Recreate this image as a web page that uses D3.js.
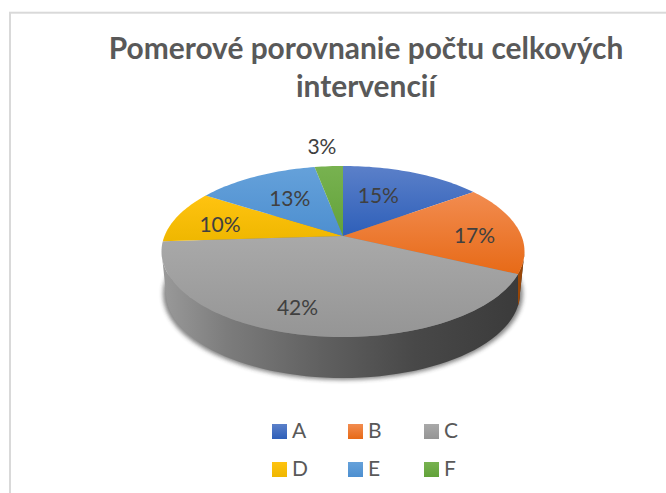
<!DOCTYPE html>
<html>
<head>
<meta charset="utf-8" />
<title>Pomerové porovnanie</title>
<style>
  html, body { margin: 0; padding: 0; background: #fff; }
  svg { display: block; }
  text { font-family: Lato, "Open Sans", sans-serif; }
</style>
</head>
<body>
<script src="https://cdnjs.cloudflare.com/ajax/libs/d3/7.8.5/d3.min.js"></script>
<script>
var categories = ['A', 'B', 'C', 'D', 'E', 'F'];
var values = [15, 17, 42, 10, 13, 3];
var titleLines = ['Pomerové porovnanie počtu celkových', 'intervencií'];

var topColors = ['#5b80c9', '#f28c50', '#a9a9a9', '#ffc310', '#65a1da', '#78b250'];
var bottomColors = ['#2e5fb9', '#e76a17', '#959595', '#efb700', '#4d8fd0', '#62a23a'];
// wall colour of the orange sliver on the right
var orangeWall = '#9a4606';

var width = 666, height = 493;
var svg = d3.select('body').append('svg').attr('width', width).attr('height', height);
var defs = svg.append('defs');

svg.append('rect')
    .attr('x', 10).attr('y', 12.7)
    .attr('width', 700).attr('height', 520)
    .attr('fill', '#fff').attr('stroke', '#d9d9d9').attr('stroke-width', 2);

svg.selectAll('.title')
    .data(titleLines)
  .enter().append('text')
    .attr('class', 'title')
    .attr('x', 366)
    .attr('y', function(d, i) { return 59 + i * 38; })
    .attr('text-anchor', 'middle')
    .attr('font-size', 29.9)
    .attr('font-weight', 700)
    .attr('fill', '#595959')
    .text(function(d) { return d; });

// pie in perspective: unit disc -> picture, apex stays at the projected centre
var cx = 343, cy = 236, b = 178.5, a = 82.7, k = -0.181;
function project(angle, r) {
    var x = r * Math.sin(angle), y = -r * Math.cos(angle);
    var w = 1 + k * y;
    return [cx + b * x / w, cy + a * y / w];
}

var pie = d3.pie().sort(null).value(function(d) { return d; })(values);
var line = d3.line();

function slicePoints(d) {
    var pts = [[cx, cy]];
    var n = Math.ceil((d.endAngle - d.startAngle) * 40);
    d3.range(n + 1).forEach(function(i) {
        pts.push(project(d.startAngle + (d.endAngle - d.startAngle) * i / n, 1));
    });
    return pts;
}

// gradients
pie.forEach(function(d, i) {
    var g = defs.append('linearGradient').attr('id', 'top' + i)
        .attr('x1', 0).attr('y1', 0).attr('x2', 0).attr('y2', 1);
    g.append('stop').attr('offset', '0%').attr('stop-color', topColors[i]);
    g.append('stop').attr('offset', '100%').attr('stop-color', bottomColors[i]);
});
var wall = defs.append('linearGradient').attr('id', 'wall');
[['0%', '#9a9a9a'], ['18%', '#7c7c7c'], ['45%', '#5f5f5f'], ['70%', '#484848'], ['100%', '#3a3a3a']]
    .forEach(function(s) { wall.append('stop').attr('offset', s[0]).attr('stop-color', s[1]); });
defs.append('filter').attr('id', 'soft').attr('x', '-10%').attr('y', '-10%').attr('width', '120%').attr('height', '130%')
    .append('feGaussianBlur').attr('stdDeviation', 2);

// wall: bottom outline is a slightly smaller ellipse
var lowX = 343, lowY = 293, lowRx = 177, lowRy = 85;
function lowPoint(t) { return [lowX + lowRx * Math.cos(t), lowY + lowRy * Math.sin(t)]; }

var lowerArc = d3.range(0, 61).map(function(i) { return lowPoint(Math.PI * i / 60); });

svg.append('ellipse')
    .attr('cx', lowX).attr('cy', lowY + 1)
    .attr('rx', lowRx + 3).attr('ry', lowRy + 1)
    .attr('fill', '#333').attr('opacity', 0.6)
    .attr('filter', 'url(#soft)');

var rimRight = d3.range(0, 41).map(function(i) { return [343 + 181.5 * Math.cos(Math.PI * i / 40), 251.5 + 85.5 * Math.sin(Math.PI * i / 40)]; });

svg.append('path')
    .attr('d', line(lowerArc.concat(rimRight.slice().reverse())) + 'Z')
    .attr('fill', 'url(#wall)');

// orange piece of the wall at the far right
var bcEnd = project(pie[1].endAngle, 1);
var rimOrange = d3.range(0, 31).map(function(i) {
    var s = pie[1].startAngle + (pie[1].endAngle - pie[1].startAngle) * i / 30;
    return project(s, 1);
}).filter(function(p) { return p[1] >= 251.5; });
var lowEndT = Math.acos((bcEnd[0] - lowX) / lowRx);
var lowOrange = d3.range(0, 11).map(function(i) { return lowPoint(lowEndT * i / 10); });
svg.append('path')
    .attr('d', line(rimOrange.concat(lowOrange.reverse())) + 'Z')
    .attr('fill', orangeWall);

// top face
svg.selectAll('.slice')
    .data(pie)
  .enter().append('path')
    .attr('class', 'slice')
    .attr('d', function(d) { return line(slicePoints(d)) + 'Z'; })
    .attr('fill', function(d, i) { return 'url(#top' + i + ')'; });

// percent labels, best-fit nudges from a point at 0.6 of the radius
var labelNudge = [[-9, 0], [26, 4], [-23, 17], [-22, 1], [2, 0], [-12, -45]];
svg.selectAll('.pct')
    .data(pie)
  .enter().append('text')
    .attr('class', 'pct')
    .attr('x', function(d, i) { return project((d.startAngle + d.endAngle) / 2, 0.6)[0] + labelNudge[i][0]; })
    .attr('y', function(d, i) { return project((d.startAngle + d.endAngle) / 2, 0.6)[1] + labelNudge[i][1]; })
    .attr('dy', '0.35em')
    .attr('text-anchor', 'middle')
    .attr('font-size', 21)
    .attr('fill', '#404040')
    .text(function(d) { return d.data + '%'; });

// legend
var legendX = d3.scalePoint().domain([0, 1, 2]).range([272, 424]);
var legendY = d3.scalePoint().domain([0, 1]).range([424, 462]);
var items = svg.selectAll('.item')
    .data(categories)
  .enter().append('g')
    .attr('class', 'item')
    .attr('transform', function(d, i) { return 'translate(' + legendX(i % 3) + ',' + legendY(Math.floor(i / 3)) + ')'; });
items.append('rect')
    .attr('width', 15).attr('height', 15)
    .attr('fill', function(d, i) { return 'url(#top' + i + ')'; });
items.append('text')
    .attr('x', 20).attr('y', 14)
    .attr('font-size', 21)
    .attr('fill', '#595959')
    .text(function(d) { return d; });
</script>
</body>
</html>
